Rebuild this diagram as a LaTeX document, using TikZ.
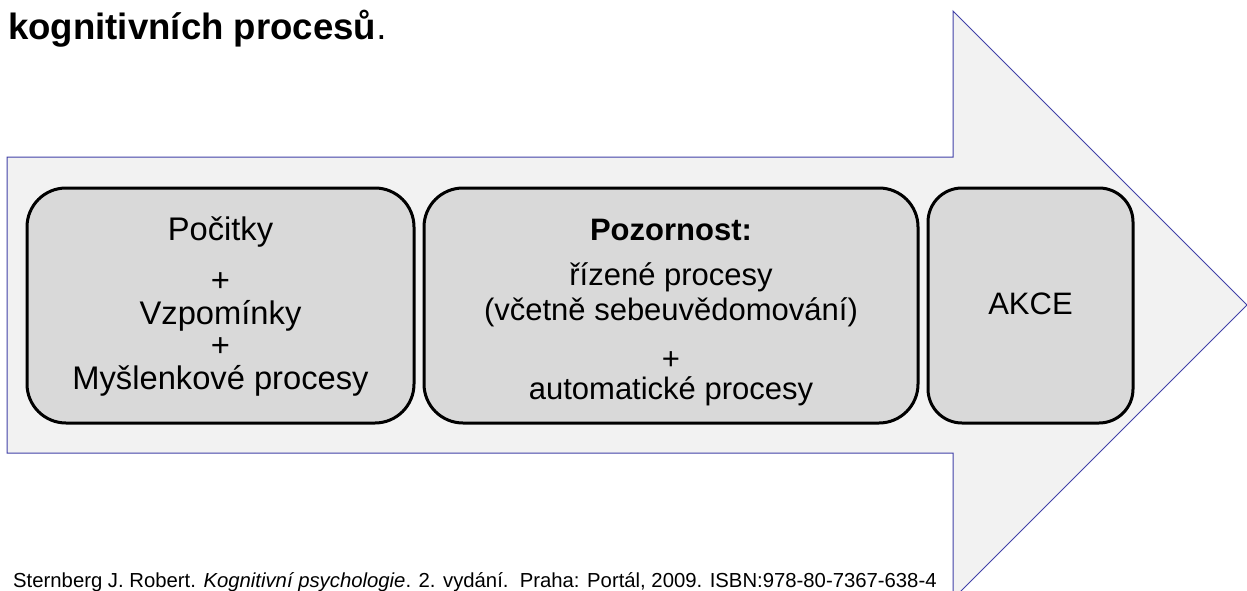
\documentclass[tikz,border=0pt]{standalone}
\usepackage{fontspec}
\setmainfont{Liberation Sans}
\definecolor{arrowfill}{HTML}{F2F2F2}
\definecolor{arrowline}{RGB}{64,64,168}
\definecolor{boxfill}{HTML}{D9D9D9}
\begin{document}
\begin{tikzpicture}[x=1pt,y=-1pt,
  arrowshape/.style={fill=arrowfill, draw=arrowline, line width=1pt},
  stage/.style={fill=boxfill, draw=black, line width=3pt, inner sep=0pt},
  txt/.style={font=\fontsize{31}{36}\selectfont, anchor=base, inner sep=0pt},
  txtbig/.style={font=\fontsize{32.7}{38}\selectfont, anchor=base, inner sep=0pt},
  cite/.style={font=\fontsize{20.3}{23}\selectfont, anchor=base west, inner sep=0pt},
  titletxt/.style={font=\fontsize{36.6}{42}\selectfont, anchor=base west, inner sep=0pt}]
\useasboundingbox (0,0) rectangle (1247,591);
\begin{scope}
\clip (0,0) rectangle (1247,591);
\draw[arrowshape] (7,157) -- (953,157) -- (953,11) -- (1247,305) -- (953,599) -- (953,453) -- (7,453) -- cycle;
\end{scope}
% title
\node[titletxt] (title) at (8,40) {\textbf{kognitivních procesů}.};
% boxes
\node[stage, minimum width=387pt, minimum height=235pt, rounded corners=39pt] (b1) at (220.5,305.5) {};
\node[stage, minimum width=494pt, minimum height=235pt, rounded corners=39pt] (b2) at (671,305.5) {};
\node[stage, minimum width=205pt, minimum height=235pt, rounded corners=34pt] (b3) at (1030.5,305.5) {};
% box 1 text
\node[txtbig] (t11) at (220.5,240) {Počitky};
\node[txtbig] (t12) at (220.5,291.5) {+};
\node[txtbig] (t13) at (220.5,324) {Vzpomínky};
\node[txtbig] (t14) at (220.5,356.5) {+};
\node[txtbig] (t15) at (220.5,389) {Myšlenkové procesy};
% box 2 text
\node[txt] (t21) at (671,240) {\textbf{Pozornost:}};
\node[txt] (t22) at (671,285) {řízené procesy};
\node[txt] (t23) at (671,320) {(včetně sebeuvědomování)};
\node[txt] (t24) at (671,369) {+};
\node[txt] (t25) at (671,399) {automatické procesy};
% box 3 text
\node[txt, anchor=center] (t31) at (1030.5,303.5) {AKCE};
% citation
\node[cite] (cit) at (13,587) {Sternberg J. Robert. \textit{Kognitivní psychologie}. 2. vydání.~~Praha: Portál, 2009. ISBN:978-80-7367-638-4};
\end{tikzpicture}
\end{document}
